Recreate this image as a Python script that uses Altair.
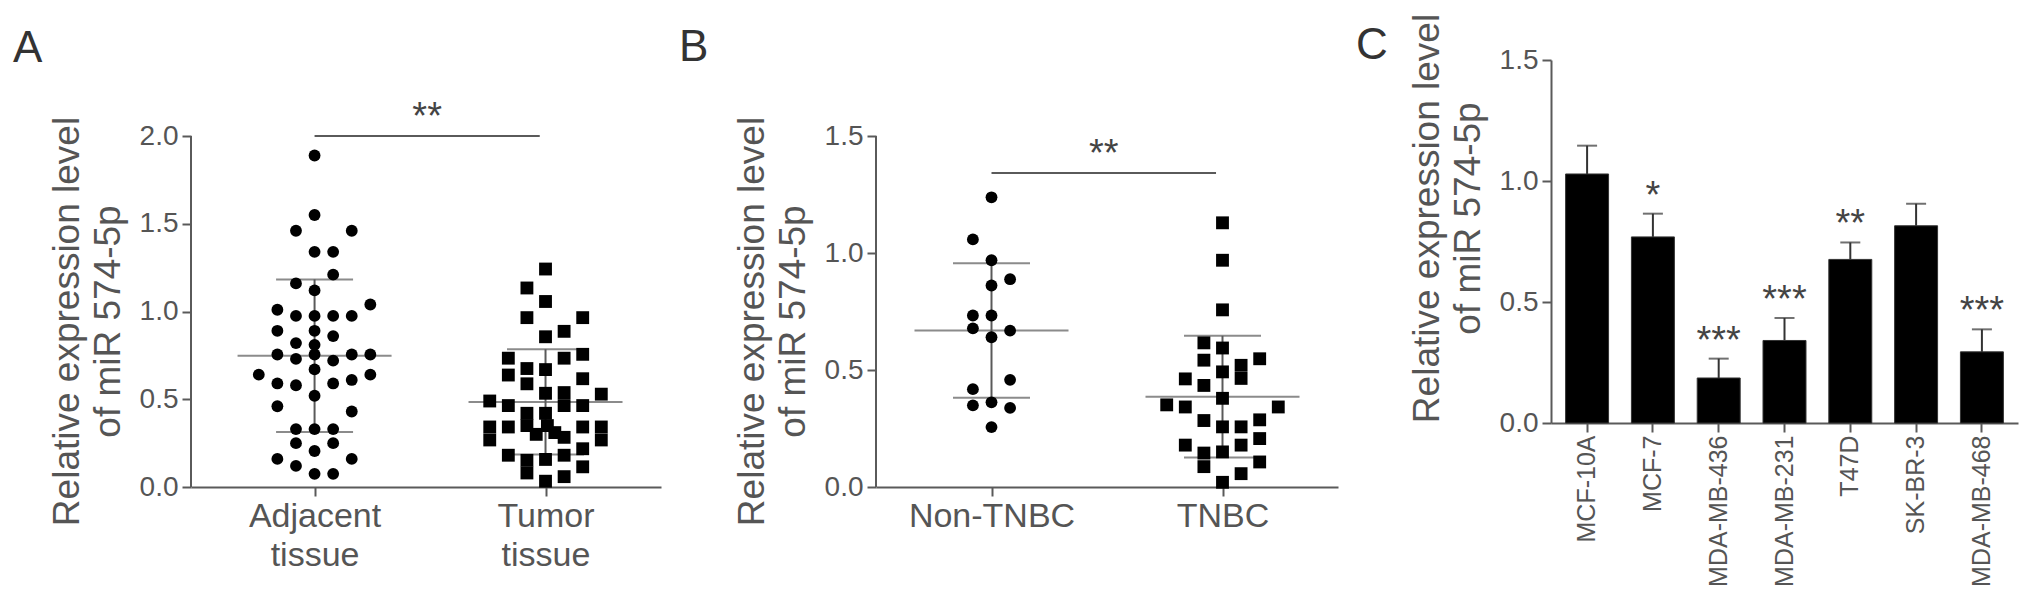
import json
import altair as alt
import pandas as pd

FONT = "Liberation Sans"
GRAY = "#555555"
LINE = "#5a5a5a"

# ---------------- Panel A : Adjacent vs Tumor tissue ----------------
a_labels = [["Adjacent", "tissue"], ["Tumor", "tissue"]]
adj_values = [1.889, 1.55, 1.46, 1.46, 1.34, 1.34, 1.21, 1.16, 1.12, 1.04,
              1.01, 0.975, 0.975, 0.975, 0.975, 0.89, 0.89, 0.86, 0.82, 0.81,
              0.755, 0.755, 0.755, 0.755, 0.73, 0.72, 0.67, 0.64, 0.64, 0.59,
              0.58, 0.59, 0.61, 0.52, 0.46, 0.43, 0.33, 0.33, 0.33, 0.25,
              0.25, 0.205, 0.16, 0.16, 0.12, 0.075, 0.075]
adj_slots = [0, 0, -1, 2, 0, 1, 1, -1, 0, 3,
             -2, -1, 0, 1, 2, -2, 0, 1, -1, 0,
             -2, 0, 2, 3, -1, 1, 0, -3, 3, -2,
             -1, 1, 2, 0, -2, 2, -1, 0, 1, -1,
             1, 0, -2, 2, -1, 0, 1]
tum_values = [1.242, 1.134, 1.057, 0.965, 0.965, 0.887, 0.856, 0.734, 0.638, 0.675,
              0.588, 0.669, 0.534, 0.734, 0.538, 0.464, 0.756, 0.617, 0.464, 0.342,
              0.218, 0.115, 0.529, 0.342, 0.268, 0.49, 0.342, 0.268, 0.464, 0.342,
              0.181, 0.42, 0.42, 0.35, 0.35, 0.30, 0.31, 0.283, 0.181, 0.059,
              0.157, 0.033, 0.152, 0.08]
tum_slots = [0, -1, 0, -1, 2, 1, 0, -2, -2, -1,
             -1, 0, 0, 1, 1, 1, 2, 2, 2, 2,
             2, 2, 3, 3, 3, -3, -3, -3, -2, -2,
             -2, -1, 0, -1, 0.1, -0.5, 0.5, 1, 1, 1,
             0, 0, -1, -1]
a_means = [0.7485, 0.485]
a_sds = [0.4345, 0.300]
a_sig = {"x": 0.0, "x2": 0.975, "y": 2.0, "text": "**"}

# ---------------- Panel B : Non-TNBC vs TNBC ----------------
b_labels = [["Non-TNBC"], ["TNBC"]]
non_values = [1.238, 1.058, 0.969, 0.888, 0.861, 0.733, 0.733, 0.678, 0.668, 0.640,
              0.458, 0.418, 0.362, 0.349, 0.338, 0.256]
non_slots = [0, -1, 0, 1, 0, -1, 0, -1, 1, 0, 1, -1, 0, -1, 1, 0]
tn_values = [1.129, 0.969, 0.757, 0.616, 0.594, 0.542, 0.548, 0.52, 0.464, 0.492,
             0.462, 0.434, 0.351, 0.342, 0.379, 0.342, 0.284, 0.257, 0.257, 0.287,
             0.207, 0.179, 0.145, 0.087, 0.150, 0.179, 0.107, 0.057, 0.02]
tn_slots = [0, 0, 0, -1, 0, -1, 2, 1, 1, 0,
            -2, -1, -3, -2, 0, 3, -1, 0, 1, 2,
            2, -2, -1, -1, 0, 1, 2, 1, 0]
b_means = [0.6685, 0.386]
b_sds = [0.2875, 0.260]
b_sig = {"x": 0.0, "x2": 0.972, "y": 1.342, "text": "**"}

# ---------------- Panel C : cell lines ----------------
cell_lines = ["MCF-10A", "MCF-7", "MDA-MB-436", "MDA-MB-231", "T47D", "SK-BR-3", "MDA-MB-468"]
c_means = [1.029, 0.769, 0.186, 0.341, 0.676, 0.815, 0.294]
c_errs = [0.117, 0.096, 0.080, 0.093, 0.070, 0.091, 0.093]
c_stars = ["", "*", "***", "***", "**", "", "***"]

Y_TITLE = ["Relative expression level", "of miR 574-5p"]
SLOT = 0.0805
TITLE_SIZE = 37
TICK_SIZE = 28
STAR_SIZE = 38
NO_FRAME = alt.ViewBackground(stroke="transparent", strokeWidth=0)


def y_axis(ticks, title_y, domain):
    return alt.Axis(values=ticks, format=".1f", title=Y_TITLE, grid=False,
                    domain=domain, domainColor=LINE, domainWidth=2,
                    ticks=True, tickSize=9, tickWidth=2, tickColor=LINE,
                    labelFont=FONT, labelFontSize=TICK_SIZE, labelColor=GRAY,
                    labelPadding=4, titleFont=FONT, titleFontSize=TITLE_SIZE,
                    titleFontWeight="normal", titleColor=GRAY, titleLineHeight=41,
                    titlePadding=12, titleY=title_y)


def scatter_panel(letter, labels, lv, ls, rv, rs, means, sds, sig, ytop, yspan,
                  ticks, width, height, xdom, letter_x, letter_y, title_y):
    expr = "datum.value == 0 ? %s : %s" % (json.dumps(labels[0]), json.dumps(labels[1]))
    xaxis = alt.Axis(values=[0, 1], labelExpr=expr, title=None, grid=False,
                     domain=True, domainColor=LINE, domainWidth=2,
                     ticks=True, tickSize=9, tickWidth=2, tickColor=LINE,
                     labelFont=FONT, labelFontSize=34, labelColor=GRAY,
                     labelLineHeight=39, labelPadding=3, labelAngle=0)
    yaxis = y_axis(ticks, title_y, False)
    xs = alt.Scale(domain=xdom, nice=False, zero=False)
    ys = alt.Scale(domain=[0, yspan], nice=False, zero=False)

    def X(f):
        return alt.X(f + ":Q", scale=xs, axis=xaxis)

    def Y(f):
        return alt.Y(f + ":Q", scale=ys, axis=yaxis)

    left = pd.DataFrame({"g": 0, "slot": ls, "y": lv})
    right = pd.DataFrame({"g": 1, "slot": rs, "y": rv})
    calc = "datum.g + datum.slot * %f" % SLOT
    circles = alt.Chart(left).transform_calculate(x=calc).mark_point(
        shape="circle", filled=True, size=140, color="black", opacity=1
    ).encode(x=X("x"), y=Y("y"))
    squares = alt.Chart(right).transform_calculate(x=calc).mark_point(
        shape="square", filled=True, size=165, color="black", opacity=1
    ).encode(x=X("x"), y=Y("y"))

    summ = pd.DataFrame({"x": [0, 1], "m": means, "s": sds})
    summ["lo"] = summ["m"] - summ["s"]
    summ["hi"] = summ["m"] + summ["s"]
    base = alt.Chart(summ)
    mean_t = base.mark_tick(orient="horizontal", size=154, thickness=2, color=LINE).encode(
        x=X("x"), y=Y("m"))
    lo_t = base.mark_tick(orient="horizontal", size=77, thickness=2, color=LINE).encode(
        x=X("x"), y=Y("lo"))
    hi_t = base.mark_tick(orient="horizontal", size=77, thickness=2, color=LINE).encode(
        x=X("x"), y=Y("hi"))
    vrule = base.mark_rule(strokeWidth=2, color=LINE).encode(
        x=X("x"), y=Y("lo"), y2="hi:Q")

    sigdf = pd.DataFrame([sig])
    sigdf["xm"] = (sigdf["x"] + sigdf["x2"]) / 2
    sig_rule = alt.Chart(sigdf).mark_rule(strokeWidth=2, color=LINE).encode(
        x=X("x"), x2="x2:Q", y=Y("y"))
    sig_text = alt.Chart(sigdf).mark_text(
        font=FONT, fontSize=STAR_SIZE, color="#444", baseline="alphabetic", dy=-7
    ).encode(x=X("xm"), y=Y("y"), text="text:N")

    axdf = pd.DataFrame({"y": [0], "y2": [ytop]})
    yline = alt.Chart(axdf).mark_rule(strokeWidth=2, color=LINE).encode(
        x=alt.value(0), y=Y("y"), y2="y2:Q")

    ldf = pd.DataFrame({"t": [letter]})
    letter_mark = alt.Chart(ldf).mark_text(
        font=FONT, fontSize=44, color="#333", align="left", baseline="alphabetic"
    ).encode(x=alt.value(letter_x), y=alt.value(letter_y), text="t:N")

    return alt.layer(yline, vrule, mean_t, lo_t, hi_t, circles, squares,
                     sig_rule, sig_text, letter_mark).properties(
        width=width, height=height, view=NO_FRAME)


H_TOP = 59      # common top of plot areas
A_BOTTOM = 486
C_BOTTOM = 422
ab_h = A_BOTTOM - H_TOP
ab_axis_h = A_BOTTOM - 135

panel_a = scatter_panel("A", a_labels, adj_values, adj_slots, tum_values, tum_slots,
                        a_means, a_sds, a_sig, 2.0, 2.0 * ab_h / ab_axis_h,
                        [0, 0.5, 1.0, 1.5, 2.0], 470, ab_h, [-0.535, 1.5],
                        -178, 2, 320 - H_TOP)
panel_b = scatter_panel("B", b_labels, non_values, non_slots, tn_values, tn_slots,
                        b_means, b_sds, b_sig, 1.5, 1.5 * ab_h / ab_axis_h,
                        [0, 0.5, 1.0, 1.5], 462, ab_h, [-0.5, 1.5],
                        -197, 1, 320 - H_TOP)

cdf = pd.DataFrame({"line": cell_lines, "m": c_means, "e": c_errs, "star": c_stars})
cdf["top"] = cdf["m"] + cdf["e"]
cys = alt.Scale(domain=[0, 1.5], nice=False)
cy_axis = y_axis([0, 0.5, 1.0, 1.5], 217 - H_TOP, True)
CX = alt.X("line:N", sort=cell_lines,
           scale=alt.Scale(paddingInner=0.347, paddingOuter=0.222),
           axis=alt.Axis(title=None, labelAngle=-90, labelFont=FONT, labelFontSize=25,
                         labelColor=GRAY, labelPadding=3, domain=True, domainColor=LINE,
                         domainWidth=2, ticks=True, tickSize=9, tickWidth=2,
                         tickColor=LINE, grid=False))


def CY(f):
    return alt.Y(f + ":Q", scale=cys, axis=cy_axis)


cbase = alt.Chart(cdf)
err_rule = cbase.mark_rule(strokeWidth=2, color="#333").encode(
    x=CX, y=CY("m"), y2="top:Q")
bars = cbase.mark_bar(color="black", stroke="#333", strokeWidth=1).encode(
    x=CX, y=CY("m"))
caps = cbase.mark_tick(orient="horizontal", size=20, thickness=2, color="#333").encode(
    x=CX, y=CY("top"))
cstars = cbase.mark_text(font=FONT, fontSize=STAR_SIZE, color="#444", baseline="alphabetic",
                         dy=-6).encode(x=CX, y=CY("top"), text="star:N")
cletter = alt.Chart(pd.DataFrame({"t": ["C"]})).mark_text(
    font=FONT, fontSize=44, color="#333", align="left", baseline="alphabetic"
).encode(x=alt.value(-195), y=alt.value(-1), text="t:N")
panel_c = alt.layer(err_rule, bars, caps, cstars, cletter).properties(
    width=467, height=C_BOTTOM - H_TOP, view=NO_FRAME)

chart = alt.hconcat(panel_a, panel_b, panel_c, spacing=18).properties(
    padding={"left": 5, "top": 5, "right": 5, "bottom": 2}
).configure_view(stroke="transparent", strokeWidth=0).configure(
    background="white", style={"cell": {"stroke": "transparent"}})

chart.save("out.html", embed_options={"renderer": "svg", "actions": False})
